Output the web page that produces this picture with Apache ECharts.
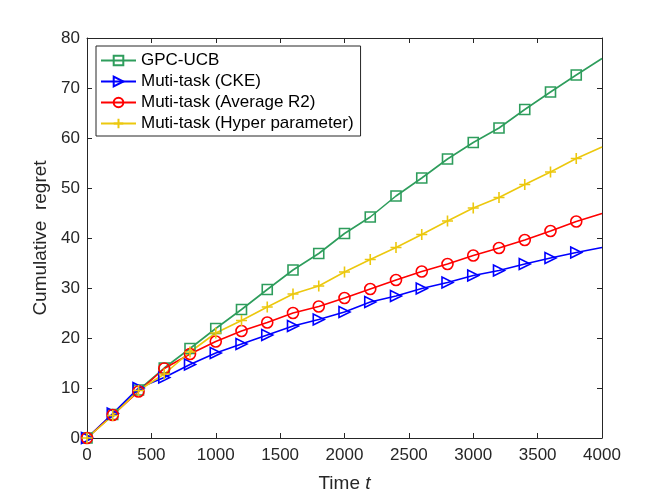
<!DOCTYPE html>
<html>
<head>
<meta charset="utf-8">
<script src="https://cdn.jsdelivr.net/npm/echarts@6/dist/echarts.min.js"></script>
<style>
  html, body { margin: 0; padding: 0; background: #fff; }
  #main { width: 664px; height: 498px; }
</style>
</head>
<body>
<div id="main"></div>
<script>
// time steps (markers every 200, last point without marker)
var steps = [0, 200, 400, 600, 800, 1000, 1200, 1400, 1600, 1800, 2000,
             2200, 2400, 2600, 2800, 3000, 3200, 3400, 3600, 3800, 4000];

var gpcUcb = [0, 4.7, 9.6, 14.0, 17.9, 21.9, 25.7, 29.7, 33.6, 36.9, 40.9,
              44.2, 48.4, 52.0, 55.8, 59.1, 62.0, 65.7, 69.2, 72.6, 75.9];
var cke = [0, 4.9, 10.0, 12.1, 14.7, 17.0, 18.8, 20.6, 22.4, 23.7, 25.2,
           27.2, 28.4, 29.9, 31.1, 32.5, 33.5, 34.8, 36.0, 37.1, 38.1];
var averageR2 = [0, 4.6, 9.3, 13.9, 16.8, 19.3, 21.4, 23.1, 25.0, 26.3, 28.0,
                 29.8, 31.6, 33.3, 34.8, 36.5, 38.0, 39.6, 41.4, 43.3, 44.9];
var hyperParam = [0, 4.5, 9.5, 12.8, 17.2, 21.0, 23.5, 26.2, 28.8, 30.4, 33.2,
                  35.7, 38.1, 40.7, 43.4, 46.0, 48.1, 50.7, 53.2, 55.9, 58.2];

var xTicks = [0, 500, 1000, 1500, 2000, 2500, 3000, 3500, 4000];
var yTicks = [0, 10, 20, 30, 40, 50, 60, 70, 80];

var axisColor = '#262626';
var fontFam = '"Liberation Sans", Arial, Helvetica, sans-serif';

function pairs(vals) {
    return vals.map(function (v, i) {
        var p = { value: [steps[i], v] };
        if (i == vals.length - 1) p.symbol = 'none';
        return p;
    });
}

function mkSeries(name, vals, color, symbol, rotate, size) {
    return {
        name: name,
        type: 'line',
        data: pairs(vals),
        symbol: symbol,
        symbolSize: size,
        symbolRotate: rotate,
        showAllSymbol: true,
        lineStyle: { color: color, width: 1.6 },
        itemStyle: { color: 'rgba(255,255,255,0)', borderColor: color, borderWidth: 1.6 },
        emphasis: { disabled: true },
        animation: false
    };
}

var plus = 'path://M0,5L10,5M5,0L5,10';

var chart = echarts.init(document.getElementById('main'));

function baseAxis(max, step) {
    return {
        type: 'value', min: 0, max: max, interval: step,
        axisLine: { show: true, onZero: false, lineStyle: { color: axisColor, width: 1 } },
        axisTick: { show: true, inside: true, length: 5, lineStyle: { color: axisColor } },
        splitLine: { show: false }
    };
}

var option = {
    backgroundColor: '#fff',
    textStyle: { fontFamily: fontFam },
    grid: { left: 87, right: 62, top: 38, bottom: 55, containLabel: false },
    legend: {
        orient: 'vertical',
        left: 96, top: 46,
        padding: [6, 7, 4, 4],
        itemWidth: 35, itemHeight: 12, itemGap: 4,
        borderColor: axisColor, borderWidth: 1,
        backgroundColor: '#fff',
        textStyle: { fontSize: 17, color: '#000', fontFamily: fontFam },
        data: ['GPC-UCB', 'Muti-task (CKE)', 'Muti-task (Average R2)', 'Muti-task (Hyper parameter)']
    },
    xAxis: [
        Object.assign(baseAxis(4000, 500), {
            position: 'bottom',
            name: '{n|Time }{i|t}',
            nameLocation: 'middle',
            nameGap: 36,
            nameTextStyle: {
                rich: {
                    n: { fontSize: 19, color: axisColor, fontFamily: fontFam },
                    i: { fontSize: 19, color: axisColor, fontStyle: 'italic', fontFamily: fontFam }
                }
            },
            axisLabel: {
                fontSize: 17, color: axisColor, margin: 9,
                formatter: function (v) { return xTicks.indexOf(v) >= 0 ? String(v) : ''; }
            }
        }),
        Object.assign(baseAxis(4000, 500), { position: 'top', axisLabel: { show: false } })
    ],
    yAxis: [
        Object.assign(baseAxis(80, 10), {
            position: 'left',
            name: 'Cumulative  regret',
            nameLocation: 'middle',
            nameGap: 26,
            nameTextStyle: { fontSize: 19, color: axisColor, fontFamily: fontFam },
            axisLabel: {
                fontSize: 17, color: axisColor, margin: 7,
                formatter: function (v) { return yTicks.indexOf(v) >= 0 ? String(v) : ''; }
            }
        }),
        Object.assign(baseAxis(80, 10), { position: 'right', axisLabel: { show: false } })
    ],
    series: [
        mkSeries('GPC-UCB', gpcUcb, '#2e9d5c', 'rect', 0, 10),
        mkSeries('Muti-task (CKE)', cke, '#0000ff', 'triangle', -90, 11),
        mkSeries('Muti-task (Average R2)', averageR2, '#ff0000', 'circle', 0, 11),
        mkSeries('Muti-task (Hyper parameter)', hyperParam, '#ecc80e', plus, 0, 11)
    ]
};

chart.setOption(option);
</script>
</body>
</html>
